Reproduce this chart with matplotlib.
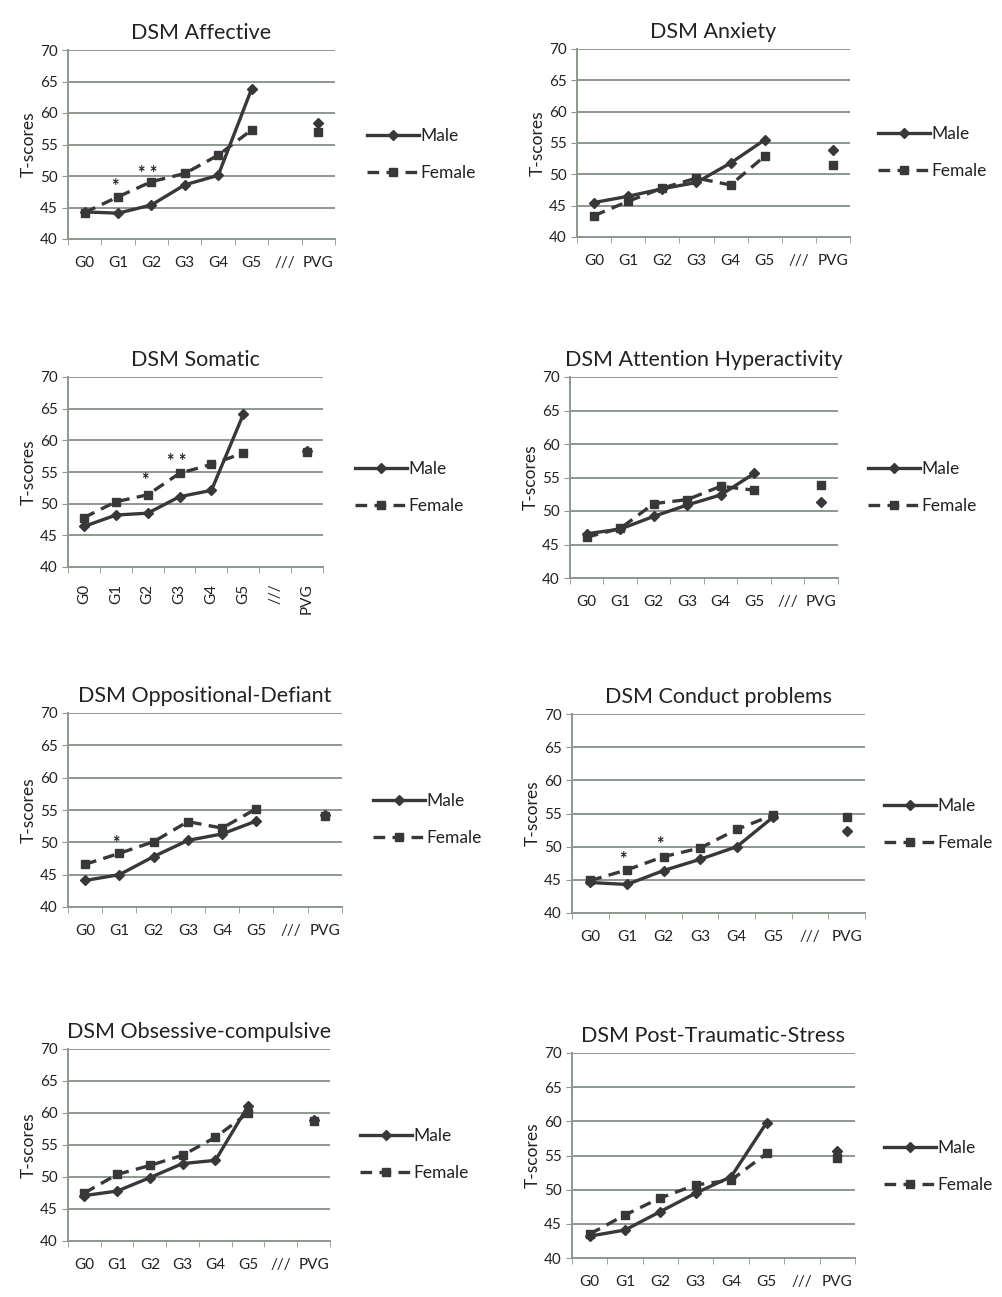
import numpy as np
import matplotlib
matplotlib.use('Agg')
import matplotlib.pyplot as plt

plt.rcParams['font.family'] = ['Lato', 'DejaVu Sans']

# categories on the x axis (/// is an empty gap)
categories = ['G0', 'G1', 'G2', 'G3', 'G4', 'G5', '///', 'PVG']

titles = ['DSM Affective', 'DSM Anxiety', 'DSM Somatic',
          'DSM Attention Hyperactivity', 'DSM Oppositional-Defiant',
          'DSM Conduct problems', 'DSM Obsessive-compulsive',
          'DSM Post-Traumatic-Stress']

# T-scores G0..G5 for each panel
male_affective = [44.3, 44.1, 45.4, 48.6, 50.1, 63.8]
female_affective = [44.2, 46.7, 49.1, 50.4, 53.3, 57.3]
male_anxiety = [45.5, 46.5, 47.7, 48.7, 51.8, 55.5]
female_anxiety = [43.4, 45.7, 47.8, 49.4, 48.3, 52.9]
male_somatic = [46.4, 48.2, 48.5, 51.1, 52.1, 64.1]
female_somatic = [47.8, 50.3, 51.4, 54.8, 56.2, 58.0]
male_attention = [46.6, 47.3, 49.2, 50.9, 52.4, 55.6]
female_attention = [46.1, 47.4, 51.1, 51.7, 53.7, 53.1]
male_oppositional = [44.1, 45.0, 47.8, 50.3, 51.3, 53.3]
female_oppositional = [46.6, 48.3, 50.1, 53.2, 52.2, 55.2]
male_conduct = [44.6, 44.3, 46.4, 48.1, 50.0, 54.5]
female_conduct = [44.9, 46.5, 48.5, 49.8, 52.6, 54.8]
male_obsessive = [47.1, 47.8, 49.9, 52.1, 52.6, 61.1]
female_obsessive = [47.5, 50.4, 51.8, 53.4, 56.2, 60.0]
male_ptsd = [43.2, 44.1, 46.8, 49.5, 51.9, 59.8]
female_ptsd = [43.5, 46.3, 48.8, 50.7, 51.4, 55.3]

# PVG reference group values
male_pvg = [58.4, 53.9, 58.3, 51.4, 54.3, 52.3, 58.9, 55.6]
female_pvg = [57.0, 51.5, 58.2, 53.9, 54.1, 54.5, 58.8, 54.7]

# significance marks: (category index, y, text)
stars = [
    [(1, 48.4, '*'), (2, 50.4, '* *')],
    [],
    [(2, 53.6, '*'), (3, 56.6, '* *')],
    [],
    [(1, 49.8, '*')],
    [(1, 48.0, '*'), (2, 50.4, '*')],
    [],
    [],
]

males = [male_affective, male_anxiety, male_somatic, male_attention,
         male_oppositional, male_conduct, male_obsessive, male_ptsd]
females = [female_affective, female_anxiety, female_somatic, female_attention,
           female_oppositional, female_conduct, female_obsessive, female_ptsd]

# axes boxes in pixels: left, top, right, bottom
boxes = [(68, 50, 335, 239), (577, 49, 850, 237),
         (68, 377, 323, 567), (570, 377, 838, 578),
         (68, 713, 342, 907), (572, 714, 865, 913),
         (68, 1049, 330, 1241), (572, 1053, 855, 1258)]
# legend anchor (handle start x, Male row y)
legend_pos = [(367, 140), (878, 138), (355, 473), (868, 473),
              (373, 805), (884, 810), (360, 1140), (884, 1152)]

W, H = 1003, 1297
fig = plt.figure(figsize=(W / 100, H / 100), dpi=100)

dark = '#383838'
grid_c = '#8e988e'
text_c = '#222222'

for i in range(8):
    l, t, r, b = boxes[i]
    ax = fig.add_axes([l / W, 1 - b / H, (r - l) / W, (b - t) / H])
    x = np.arange(6)
    ax.plot(x, males[i], '-', color=dark, lw=2.4, marker='D', ms=5,
            label='Male')
    ax.plot(x, females[i], '--', color=dark, lw=2.4, marker='s', ms=5.5,
            dashes=(3.5, 2.2), label='Female')
    ax.plot([7], [male_pvg[i]], 'D', color=dark, ms=5)
    ax.plot([7], [female_pvg[i]], 's', color=dark, ms=5.5)
    for cx, cy, s in stars[i]:
        ax.text(cx - 0.1, cy, s, ha='center', va='center', fontsize=13,
                color=text_c, fontweight='bold')

    ax.set_xlim(-0.5, 7.5)
    ax.set_ylim(40, 70)
    ax.set_yticks(range(40, 71, 5))
    ax.grid(axis='y', color=grid_c, lw=1.4)
    ax.set_axisbelow(True)
    ax.set_xticks(np.arange(8))
    rot = 90 if i == 2 else 0
    ax.set_xticklabels(categories, rotation=rot, fontsize=11, color=text_c)
    ax.set_xticks(np.arange(-0.5, 8, 1), minor=True)
    ax.tick_params(axis='x', which='major', length=0, pad=12)
    ax.tick_params(axis='x', which='minor', length=4, color=grid_c)
    ax.tick_params(axis='y', length=4, color=grid_c, labelsize=11,
                   labelcolor=text_c)
    for sp in ['top', 'right']:
        ax.spines[sp].set_visible(False)
    for sp in ['left', 'bottom']:
        ax.spines[sp].set_color(grid_c)
        ax.spines[sp].set_linewidth(1.4)
    ax.set_ylabel('T-scores', fontsize=12.5, color=text_c, labelpad=2)
    ax.set_title(titles[i], fontsize=15.5, color=text_c, pad=8)

    lx, ly = legend_pos[i]
    ax.legend(loc='upper left', bbox_to_anchor=(lx / W, 1 - (ly - 12) / H),
              bbox_transform=fig.transFigure, frameon=False, fontsize=12.5,
              handlelength=3.0, handletextpad=0.1, labelspacing=1.2,
              borderpad=0, borderaxespad=0, labelcolor=text_c)

fig.savefig('out.png', dpi=100)
